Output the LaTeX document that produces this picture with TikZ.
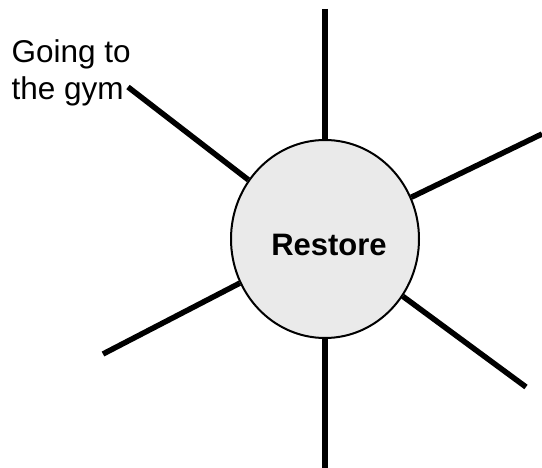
\documentclass[tikz,border=0pt]{standalone}
\usepackage{fontspec}
\setmainfont{Liberation Sans}
\usetikzlibrary{shapes.geometric}
\definecolor{hubfill}{HTML}{EAEAEA}
\tikzset{
  hub/.style={ellipse, draw=black, line width=2pt, fill=hubfill, minimum width=188pt, minimum height=198pt, inner sep=0pt},
  spoke/.style={line width=5.5pt, draw=black},
  lbl/.style={font=\fontsize{31.5}{36.7}\selectfont, inner sep=0pt, align=left},
  hubtext/.style={font=\fontsize{31}{36}\selectfont\bfseries, inner sep=0pt}
}
\begin{document}
\begin{tikzpicture}[x=1pt,y=-1pt]
\useasboundingbox (0,0) rectangle (542,468);
\node[hub] (c) at (325,239) {};
\node[hubtext, anchor=base] (t) at (329,255.7) {Restore};
\coordinate (pt) at (325,9);
\coordinate (pb) at (325,468);
\coordinate (pul) at (128,87);
\coordinate (pur) at (542,134);
\coordinate (plr) at (526,387);
\coordinate (pll) at (103,354);
\draw[spoke] (pt) -- (c);
\draw[spoke] (pb) -- (c);
\draw[spoke] (pul) -- (c);
\draw[spoke] (pur) -- (c);
\draw[spoke] (plr) -- (c);
\draw[spoke] (pll) -- (c);
\node[lbl, anchor=base west] (g) at (11.5,99.3) {Going to\\the gym};
\end{tikzpicture}
\end{document}
